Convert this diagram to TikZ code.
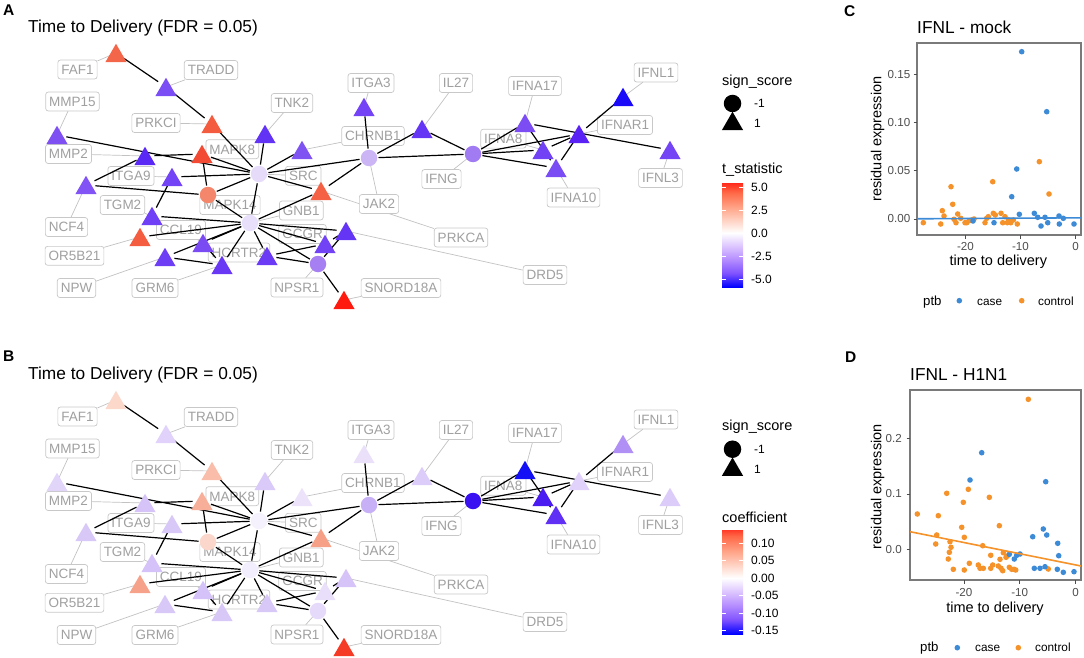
\documentclass[tikz,border=0pt]{standalone}
\usepackage{fontspec}
\setmainfont{Liberation Sans}
\usetikzlibrary{shapes.geometric}

\pgfdeclarelayer{back}
\pgfsetlayers{back,main}

\definecolor{labelgray}{HTML}{C8C8C8}
\definecolor{textgray}{HTML}{A0A0A0}
\definecolor{leadgray}{HTML}{C2C2C2}
\definecolor{axisgray}{HTML}{4D4D4D}
\definecolor{framegray}{HTML}{7A7A7A}
\definecolor{casecol}{HTML}{3D8AD6}
\definecolor{ctrlcol}{HTML}{F5922A}

% colour bar stops, blue - white - red
\definecolor{bl1}{HTML}{7E51FF}
\definecolor{bl2}{HTML}{B38BFF}
\definecolor{bl3}{HTML}{DCC4FF}
\definecolor{rd1}{HTML}{FFCFBF}
\definecolor{rd2}{HTML}{FF9E81}
\definecolor{rd3}{HTML}{FF6746}
\definecolor{rdtopA}{HTML}{FF2A1C}
\definecolor{rdtopB}{HTML}{FF3B28}

\pgfdeclareverticalshading{tstat}{100bp}{color(0bp)=(blue); color(25bp)=(blue);
  color(31.5bp)=(bl1); color(38bp)=(bl2); color(44.5bp)=(bl3); color(51bp)=(white);
  color(57.5bp)=(rd1); color(64bp)=(rd2); color(70.5bp)=(rd3); color(75bp)=(rdtopA);
  color(100bp)=(rdtopA)}
\pgfdeclareverticalshading{coef}{100bp}{color(0bp)=(blue); color(25bp)=(blue);
  color(31.7bp)=(bl1); color(38.5bp)=(bl2); color(45.2bp)=(bl3); color(51.9bp)=(white);
  color(58.7bp)=(rd1); color(65.4bp)=(rd2); color(72.1bp)=(rd3); color(75bp)=(rdtopB);
  color(100bp)=(rdtopB)}

\newcommand\fGene{\fontsize{13.5}{16}\selectfont}
\newcommand\fTitle{\fontsize{17.3}{20}\selectfont}
\newcommand\fTag{\fontsize{15.5}{18}\selectfont\bfseries}
\newcommand\fLegTitle{\fontsize{14.5}{17}\selectfont}
\newcommand\fLeg{\fontsize{12}{14}\selectfont}
\newcommand\fAxis{\fontsize{14.5}{17}\selectfont}
\newcommand\fTick{\fontsize{11.6}{14}\selectfont}
\newcommand\fKey{\fontsize{11.8}{14}\selectfont}
\newcommand\fKeyTitle{\fontsize{13.2}{16}\selectfont}

% name/shape/x/y/label x/label y/colour A/colour B
\newcommand{\genelist}{%
FAF1/tri/116/53/77.5/69.5/F4664A/FBD8CA,
TRADD/tri/166/87/211/70/7B4DF5/E0D2FA,
MMP15/tri/57/135/72.5/101.5/7F50F2/E2D5FA,
MMP2/tri/145/156/68.5/154/5A28F5/D6C4F8,
PRKCI/tri/212/124/156/123/F45C40/F9BDAA,
TNK2/tri/265/134/292/103/6233F5/DACAF9,
CHRNB1/tri/302/150/373/136/7F52F2/ECE3FB,
MAPK8/tri/202/154/232.3/149.2/F34A33/F7AF9A,
SRC/dot/259/174/303.3/175.8/E6DCFA/F6F2FD,
ITGA9/tri/172/177/131/176/7344F5/D8C8F8,
NCF4/tri/86/185/66.5/227/8254F5/D8C8F8,
MAPK14/dot/208/195/230/205/F4866C/FBD7CB,
JAK2/dot/369/158/379/204/CCB5F5/C8B0F7,
GNB1/dot/250/223/301.3/210.5/E8DFFA/F3EEFD,
TGM2/tri/152/216/122.5/205/6F40F5/D4C2F8,
OR5B21/tri/140/237/74.5/255.8/F55D40/F6A28B,
CCL19/tri/203/243/181/230/7A4AF3/D4C2F8,
HCRTR2/tri/267/256/239/252.5/6A3AF5/D8C8F8,
NPW/tri/165/257/76.5/288/6E3EF5/D8C8F8,
GRM6/tri/222/265/155/288/6838F5/D8C8F8,
GCGR/tri/325/244/302.5/234/7243F5/EADFFA,
DRD5/tri/346/231/545/275/6535F5/D6C4F8,
NPSR1/dot/318/264/297/287.5/A680F2/E6DAFA,
SNORD18A/tri/344/300/401/288/FF1A10/F53A25,
PRKCA/tri/321/191/461/237.5/F56145/F6A088,
ITGA3/tri/364/107/371/83/7343F5/EAE0FA,
IL27/tri/422/129/456/83/6535F5/DCCCF9,
IFNG/dot/473/154/441.5/179/A17BF2/3A12F2,
IFNA8/tri/543/150/503.3/138.7/7243F5/4A1CF2,
IFNA17/tri/525/123/535/86/7B4DF3/1410F5,
IFNAR1/tri/579/134/625/125/5A22F5/E0D2FA,
IFNL1/tri/623/97/656/72.5/1A0AF8/B090F5,
IFNL3/tri/670/150/660.5/178/7445F5/DCCCF9,
IFNA10/tri/556/168/573.5/197.5/7A4CF3/6030F5}

\newcommand{\edgelist}{FAF1/TRADD, TRADD/PRKCI, PRKCI/SRC, MMP15/SRC, MMP2/MAPK8,
NCF4/MMP2, NCF4/MAPK14, ITGA9/SRC, TGM2/ITGA9, MAPK8/MAPK14, MAPK8/SRC, TNK2/SRC,
CHRNB1/SRC, SRC/JAK2, SRC/PRKCA, SRC/GNB1, MAPK14/SRC, MAPK14/GNB1, JAK2/PRKCA,
JAK2/ITGA3, JAK2/IL27, JAK2/IFNG, GNB1/PRKCA, GNB1/TGM2, GNB1/OR5B21, GNB1/CCL19,
GNB1/NPW, GNB1/GRM6, GNB1/HCRTR2, GNB1/GCGR, GNB1/DRD5, GNB1/NPSR1, HCRTR2/NPSR1,
HCRTR2/GCGR, NPW/GRM6, CCL19/GRM6, GCGR/DRD5, NPSR1/DRD5, NPSR1/SNORD18A, IL27/IFNG,
IFNG/IFNA17, IFNG/IFNAR1, IFNG/IFNA8, IFNG/IFNA10, IFNA17/IFNA10, IFNA17/IFNL3,
IFNAR1/IFNL1, IFNAR1/IFNA10, IFNA8/IFNAR1}

% #1 = panel, #2 = vertical offset
\newcommand{\genenet}[2]{%
  \foreach \g/\s/\x/\y/\lx/\ly/\ca/\cb in \genelist {
    \coordinate (#1\g) at (\x,\y+#2);
    \node[genelabel] (#1\g-lab) at (\lx,\ly+#2) {\g};
    \begin{pgfonlayer}{back}
      \draw[lead] (#1\g-lab) -- (#1\g);
    \end{pgfonlayer}
  }
  \foreach \a/\b in \edgelist {\draw[edge] (#1\a) -- (#1\b);}
  \foreach \g/\s/\x/\y/\lx/\ly/\ca/\cb in \genelist {
    \ifnum#2=0 \definecolor{nodefill}{HTML}{\ca}\else\definecolor{nodefill}{HTML}{\cb}\fi
    \node[\s,fill=nodefill] (#1\g-n) at (#1\g) {};
  }
}

\begin{document}
\begin{tikzpicture}[x=1pt,y=-1pt,
    tri/.style={regular polygon,regular polygon sides=3,minimum size=24.5pt,
        inner sep=0pt,yshift=-3pt},
    dot/.style={circle,minimum size=16.5pt,inner sep=0pt},
    genelabel/.style={draw=labelgray,fill=white,rounded corners=2.5pt,line width=0.7pt,
        text=textgray,font=\fGene,inner xsep=3.5pt,inner ysep=4.6pt,
        text height=9.7pt,text depth=0pt},
    lead/.style={leadgray,line width=0.7pt},
    edge/.style={line width=1.2pt,shorten <=9.5pt,shorten >=9.5pt},
    tag/.style={font=\fTag,inner sep=0pt,anchor=base west},
    plottitle/.style={font=\fTitle,inner sep=0pt,anchor=base west},
    legtitle/.style={font=\fLegTitle,inner sep=0pt,anchor=base west},
    legtext/.style={font=\fLeg,inner sep=0pt,anchor=west},
    bartick/.style={white,line width=0.6pt},
    frame/.style={framegray,line width=1.1pt},
    axtick/.style={axisgray,line width=0.8pt},
    ticklab/.style={font=\fTick,text=axisgray,inner sep=0pt},
    axtitle/.style={font=\fAxis,inner sep=0pt},
    keytext/.style={font=\fKey,inner sep=0pt,anchor=base west}]

\useasboundingbox (0,0) rectangle (1084,658);

% A and B: networks
\node[tag] (tagA) at (3,15.3) {A};
\node[plottitle] (titleA) at (28,32.7) {Time to Delivery (FDR = 0.05)};
\genenet{A}{0}

\node[tag] (tagB) at (3,361.7) {B};
\node[plottitle] (titleB) at (28,379.7) {Time to Delivery (FDR = 0.05)};
\genenet{B}{347}

% legend A
\node[legtitle] (signA) at (722,85.6) {sign\_score};
\node[dot,fill=black,minimum size=17.5pt] (circA) at (732.5,103.5) {};
\node[tri,fill=black] (triA) at (732.5,121) {};
\node[legtext] (minusA) at (754,103) {-1};
\node[legtext] (plusA) at (754,123.5) {1};
\node[legtitle] (tstat) at (722,173.9) {t\_statistic};
\shade[shading=tstat] (722,183) rectangle (743,287);
\foreach \v/\t [count=\i] in {187/5.0,210.5/2.5,233/0.0,256/-2.5,279/-5.0}{
  \draw[bartick] (722,\v) -- (726,\v) (739,\v) -- (743,\v);
  \node[legtext] (barA\i) at (751,\v) {\t};
}

% legend B
\node[legtitle] (signB) at (722,430.6) {sign\_score};
\node[dot,fill=black,minimum size=17.5pt] (circB) at (732.5,449.2) {};
\node[tri,fill=black] (triB) at (732.5,466.7) {};
\node[legtext] (minusB) at (754,449) {-1};
\node[legtext] (plusB) at (754,469.5) {1};
\node[legtitle] (coefB) at (722,522.3) {coefficient};
\shade[shading=coef] (722,530) rectangle (743,634);
\foreach \v/\t [count=\i] in {543/0.10,560.5/0.05,578/0.00,595.5/-0.05,613/-0.10,630.5/-0.15}{
  \draw[bartick] (722,\v) -- (726,\v) (739,\v) -- (743,\v);
  \node[legtext] (barB\i) at (751,\v) {\t};
}

% C: IFNL - mock
\node[tag] (tagC) at (844,16.5) {C};
\node[plottitle] (titleC) at (917,33.5) {IFNL - mock};
\draw[frame] (917,43) rectangle (1081,235);
\foreach \v/\t [count=\i] in {219/0.00,170.7/0.05,122.4/0.10,74.1/0.15}{
  \draw[axtick] (913.5,\v) -- (917,\v);
  \node[ticklab,anchor=east] (cy\i) at (910.5,\v) {\t};
}
\foreach \u/\t [count=\i] in {965.5/-20,1020.5/-10,1075.5/0}{
  \draw[axtick] (\u,235) -- (\u,238.5);
  \node[ticklab] (cx\i) at (\u,246.7) {\t};
}
\node[axtitle,anchor=base] (xlabC) at (998.3,265.5) {time to delivery};
\node[axtitle,rotate=90] (ylabC) at (877.5,139) {residual expression};
\foreach \px/\py in {923.3/222.7,940.7/224,942.3/210.7,944/216,951/186.7,952.7/204.3,
  954/219.3,956/222.7,957.7/214,960.7/218.3,965/222.7,966.7/222.7,969.3/220.7,971.7/220,
  974/219,985/222.7,986.7/218.3,988.3/216.7,992.7/181.7,993.3/213.3,995.3/215,1001/213.3,
  1002.7/222.7,1005/216.7,1007.3/222.7,1008.7/220,1010.7/222.7,1013.3/220,1017.3/224,
  1039.3/161.7,1049/194}
  \fill[ctrlcol] (\px,\py) circle (2.8pt);
\foreach \px/\py in {1021.7/51.7,1046.7/111.7,1016.7/169,1011.7/196.7,1019.3/214.3,
  994/222.7,1034.3/213.3,1037.7/217.3,1041/226,1045/217.3,1047.7/222.7,1059/216,
  1059.3/224,1063.3/218.3,1074/224,973/221}
  \fill[casecol] (\px,\py) circle (2.8pt);
\draw[casecol,line width=1.6pt] (917,218.8) -- (1081,217.8);
\node[font=\fKeyTitle,inner sep=0pt,anchor=base west] (ptbC) at (923,305) {ptb};
\fill[casecol] (959.3,300.7) circle (2.8pt);
\node[keytext] (caseC) at (977,305) {case};
\fill[ctrlcol] (1021.7,300.7) circle (2.8pt);
\node[keytext] (ctrlC) at (1038,305) {control};

% D: IFNL - H1N1
\node[tag] (tagD) at (845,362.5) {D};
\node[plottitle] (titleD) at (910,380.5) {IFNL - H1N1};
\draw[frame] (910,390) rectangle (1081,580);
\foreach \v/\t [count=\i] in {549.3/0.0,494/0.1,438.8/0.2}{
  \draw[axtick] (906.5,\v) -- (910,\v);
  \node[ticklab,anchor=east] (dy\i) at (902,\v) {\t};
}
\foreach \u/\t [count=\i] in {964/-20,1019.7/-10,1075.5/0}{
  \draw[axtick] (\u,580) -- (\u,583.5);
  \node[ticklab] (dx\i) at (\u,593) {\t};
}
\node[axtitle,anchor=base] (xlabD) at (995,612) {time to delivery};
\node[axtitle,rotate=90] (ylabD) at (877.5,486.7) {residual expression};
\foreach \px/\py in {1028.3/399.3,917.3/514,938.3/515.7,936.7/535,935.7/544,946.7/493.3,
  968.3/489.3,963.3/502.3,989.3/497.3,961.7/527.3,964.3/537.3,999.3/525.7,950/541.7,
  949.3/552.3,951/547.3,948.3/559,953.3/569.3,964.3/570,969.3/563.3,978.3/565,980/568.3,
  983.3/568.3,982.7/545.7,990.7/555.3,990.7/568.3,992.7/565,998.3/566,1000/559.3,
  1001/568.3,1002.7/570.7,1003.3/552.7,1006/557.3,1007.3/556,1009.3/567.3,1011.7/569.3,
  1014/569.3,1015.7/570,1048.3/569}
  \fill[ctrlcol] (\px,\py) circle (2.8pt);
\foreach \px/\py in {981.7/452.7,970/480,1045.7/481.7,1032.7/536.7,1043.3/529,1046.7/535,
  1057.7/543.3,1058.7/555.7,1009.3/554.3,1014.3/559,1016.7/555.3,1020/554,1034.3/568.3,
  1040/568.3,1045/566.7,1057.3/569.3,1063.3/572.3,1074/571.7}
  \fill[casecol] (\px,\py) circle (2.8pt);
\draw[ctrlcol,line width=1.6pt] (910,531.7) -- (1081,566);
\node[font=\fKeyTitle,inner sep=0pt,anchor=base west] (ptbD) at (920,651) {ptb};
\fill[casecol] (957.3,647.7) circle (2.8pt);
\node[keytext] (caseD) at (975,651) {case};
\fill[ctrlcol] (1018.3,647.7) circle (2.8pt);
\node[keytext] (ctrlD) at (1035,651) {control};
\end{tikzpicture}
\end{document}
